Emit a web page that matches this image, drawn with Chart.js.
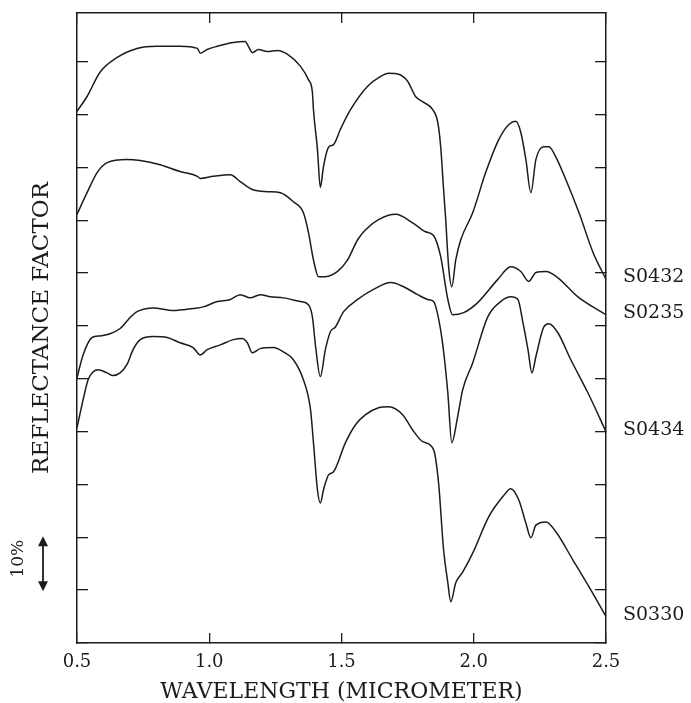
<!DOCTYPE html>
<html>
<head>
<meta charset="utf-8">
<title>Reflectance spectra</title>
<script src="https://cdn.jsdelivr.net/npm/chart.js@4.4.1/dist/chart.umd.min.js"></script>
<style>
  html, body { margin: 0; padding: 0; background: #fff; }
  canvas { display: block; }
</style>
</head>
<body>
<canvas id="spectra" width="691" height="703"></canvas>
<script>
// wavelength (micrometer) and offset reflectance (%) for each sample
var s0432Wl = [0.500,0.538,0.587,0.652,0.727,0.803,0.890,0.955,0.966,0.992,1.030,1.091,1.136,1.148,1.163,1.186,1.220,1.258,1.295,1.345,1.375,1.390,1.394,1.409,1.420,1.432,1.451,1.470,1.496,1.534,1.598,1.648,1.678,1.716,1.750,1.780,1.811,1.845,1.864,1.875,1.886,1.894,1.905,1.917,1.932,1.951,1.996,2.045,2.095,2.133,2.159,2.178,2.197,2.216,2.235,2.265,2.284,2.311,2.348,2.398,2.451,2.500];
var s0432R  = [100.6,103.4,108.0,110.8,112.5,112.9,112.9,112.5,111.6,112.3,112.9,113.6,113.8,112.9,111.7,112.3,111.9,112.1,111.4,109.1,106.6,104.2,100.9,93.4,86.2,90.2,93.8,94.3,97.2,100.9,105.3,107.2,107.8,107.6,106.3,103.4,102.3,100.9,98.5,93.9,85.8,80.1,71.2,67.4,72.5,76.3,81.4,89.0,95.3,98.1,98.7,96.6,91.5,85.2,91.5,93.9,93.9,91.9,87.7,81.4,73.9,68.8];

var s0235Wl = [0.500,0.538,0.576,0.614,0.689,0.739,0.814,0.890,0.955,0.966,1.015,1.080,1.117,1.163,1.220,1.269,1.318,1.356,1.375,1.394,1.413,1.439,1.485,1.523,1.561,1.591,1.640,1.705,1.769,1.818,1.848,1.875,1.902,1.920,1.962,2.015,2.091,2.140,2.178,2.208,2.235,2.273,2.318,2.394,2.500];
var s0235R  = [81.1,85.2,89.0,90.9,91.5,91.3,90.5,89.2,88.3,87.9,88.3,88.6,87.3,85.8,85.4,85.2,83.5,81.4,77.7,72.5,69.3,69.3,70.3,72.5,76.3,78.2,80.1,81.1,79.5,77.8,77.1,73.1,65.0,62.1,62.5,64.4,68.8,71.2,70.3,68.4,70.1,70.3,69.1,65.5,62.1];

var s0434Wl = [0.500,0.523,0.557,0.587,0.625,0.663,0.701,0.727,0.788,0.864,0.939,0.977,1.030,1.080,1.117,1.155,1.193,1.231,1.280,1.345,1.375,1.390,1.402,1.420,1.439,1.458,1.477,1.508,1.561,1.621,1.686,1.735,1.788,1.826,1.848,1.864,1.883,1.902,1.917,1.939,1.958,1.996,2.053,2.102,2.140,2.167,2.186,2.205,2.220,2.235,2.265,2.284,2.318,2.367,2.432,2.500];
var s0434R  = [50.2,54.5,57.8,58.1,58.5,59.5,61.6,62.7,63.4,62.9,63.3,63.6,64.6,65.0,65.9,65.3,65.9,65.5,65.3,64.6,64.0,61.7,56.1,50.4,55.5,58.9,59.8,62.7,65.0,66.9,68.2,67.4,65.9,65.0,64.6,62.1,56.4,47.3,37.9,42.8,47.9,53.0,61.7,64.6,65.5,65.0,60.6,55.5,51.1,54.2,59.8,60.4,58.7,53.6,47.3,40.0];

var s0330Wl = [0.500,0.523,0.542,0.561,0.580,0.614,0.636,0.663,0.689,0.712,0.739,0.788,0.841,0.890,0.939,0.966,0.992,1.042,1.091,1.125,1.144,1.163,1.193,1.242,1.280,1.318,1.356,1.383,1.394,1.409,1.420,1.432,1.451,1.470,1.515,1.553,1.591,1.640,1.678,1.731,1.769,1.807,1.848,1.867,1.886,1.902,1.913,1.932,1.958,1.996,2.057,2.110,2.140,2.170,2.197,2.216,2.235,2.273,2.311,2.375,2.436,2.500];
var s0330R  = [40.7,46.0,49.8,51.3,51.7,51.1,50.6,51.1,52.7,55.5,57.4,58.0,57.8,56.8,55.9,54.5,55.5,56.4,57.4,57.6,56.8,54.9,55.7,55.9,55.1,53.6,49.8,44.1,37.9,29.0,26.5,29.0,31.8,32.4,37.9,41.3,43.2,44.5,44.7,43.2,40.3,38.1,36.6,30.3,17.6,11.4,7.8,11.4,13.4,17.0,23.9,27.7,29.2,27.1,22.7,19.9,22.3,22.9,21.0,15.7,10.6,5.0];

var sampleNames = ["S0432", "S0235", "S0434", "S0330"];
var wlTicks = [0.5, 1.0, 1.5, 2.0, 2.5];
var scaleBar = [10, 20];   // the 10% bar, in reflectance units

var ink = '#1c1c1c';
var serif = '"DejaVu Serif", "Liberation Serif", serif';

Chart.defaults.font.family = serif;
Chart.defaults.color = ink;

function series(name, wl, r) {
    var pts = [];
    for (var i = 0; i < wl.length; i++) {
        pts.push({ x: wl[i], y: r[i] });
    }
    return {
        label: name,
        data: pts,
        borderColor: ink,
        borderWidth: 1.5,
        pointRadius: 0,
        fill: false,
        cubicInterpolationMode: 'monotone'
    };
}

// frame side: tick marks pointing into the plot, no gridlines
function frameGrid(len) {
    return { drawOnChartArea: false, drawTicks: true, tickLength: -len, color: ink, lineWidth: 1.3 };
}
var frameBorder = { display: true, color: ink, width: 1.5 };

// sample names written just past the right end of every curve,
// plus the 10% bar at the lower left
var annotations = {
    id: 'annotations',
    afterDraw: function(chart) {
        var ctx = chart.ctx;
        var area = chart.chartArea;
        ctx.save();
        ctx.fillStyle = ink;
        ctx.strokeStyle = ink;

        ctx.font = '19px ' + serif;
        ctx.textBaseline = 'middle';
        ctx.textAlign = 'left';
        chart.data.datasets.forEach(function(ds, i) {
            var pts = chart.getDatasetMeta(i).data;
            var end = pts[pts.length - 1];
            ctx.fillText(ds.label, area.right + 17, end.y - 2);
        });

        var yScale = chart.scales.y;
        var y0 = yScale.getPixelForValue(scaleBar[0]);
        var y1 = yScale.getPixelForValue(scaleBar[1]);
        var ax = 43, head = 9, half = 5;
        ctx.lineWidth = 1.8;
        ctx.beginPath();
        ctx.moveTo(ax, y1 + head - 1);
        ctx.lineTo(ax, y0 - head + 1);
        ctx.stroke();
        ctx.beginPath();
        ctx.moveTo(ax, y1 - 1);
        ctx.lineTo(ax - half, y1 + head);
        ctx.lineTo(ax + half, y1 + head);
        ctx.closePath();
        ctx.fill();
        ctx.beginPath();
        ctx.moveTo(ax, y0 + 1);
        ctx.lineTo(ax - half, y0 - head);
        ctx.lineTo(ax + half, y0 - head);
        ctx.closePath();
        ctx.fill();

        ctx.translate(19, (y0 + y1) / 2 - 5);
        ctx.rotate(-Math.PI / 2);
        ctx.font = '17px ' + serif;
        ctx.textAlign = 'center';
        ctx.fillText('10%', 0, 0);
        ctx.restore();
    }
};

var config = {
    type: 'line',
    data: {
        datasets: [
            series(sampleNames[0], s0432Wl, s0432R),
            series(sampleNames[1], s0235Wl, s0235R),
            series(sampleNames[2], s0434Wl, s0434R),
            series(sampleNames[3], s0330Wl, s0330R)
        ]
    },
    options: {
        responsive: false,
        animation: false,
        layout: { padding: 0 },
        plugins: {
            legend: { display: false },
            tooltip: { enabled: false }
        },
        scales: {
            x: {
                type: 'linear',
                position: 'bottom',
                min: 0.5,
                max: 2.5,
                afterBuildTicks: function(s) { s.ticks = wlTicks.map(function(v) { return { value: v }; }); },
                ticks: {
                    callback: function(v) { return v.toFixed(1); },
                    font: { size: 18 },
                    color: ink,
                    padding: 19,
                    maxRotation: 0
                },
                grid: frameGrid(10),
                border: frameBorder,
                title: {
                    display: true,
                    text: 'WAVELENGTH (MICROMETER)',
                    font: { size: 22, lineHeight: 1 },
                    color: ink,
                    padding: { top: 0, bottom: 0 }
                },
                afterFit: function(s) { s.height = 60; }
            },
            xTop: {
                type: 'linear',
                position: 'top',
                min: 0.5,
                max: 2.5,
                afterBuildTicks: function(s) { s.ticks = wlTicks.map(function(v) { return { value: v }; }); },
                ticks: { display: false },
                grid: frameGrid(10),
                border: frameBorder,
                afterFit: function(s) { s.height = 13; }
            },
            y: {
                type: 'linear',
                position: 'left',
                min: 0,
                max: 119.2,
                ticks: { display: false, stepSize: 10, includeBounds: false },
                grid: frameGrid(11),
                border: frameBorder,
                title: {
                    display: true,
                    text: 'REFLECTANCE FACTOR',
                    font: { size: 23, lineHeight: 1 },
                    color: ink,
                    padding: { top: 31, bottom: 0 }
                },
                afterFit: function(s) { s.width = 77; }
            },
            yRight: {
                type: 'linear',
                position: 'right',
                min: 0,
                max: 119.2,
                ticks: { display: false, stepSize: 10, includeBounds: false },
                grid: frameGrid(11),
                border: frameBorder,
                afterFit: function(s) { s.width = 85; }
            }
        }
    },
    plugins: [annotations]
};

var spectraChart = new Chart(document.getElementById('spectra'), config);
</script>
</body>
</html>
